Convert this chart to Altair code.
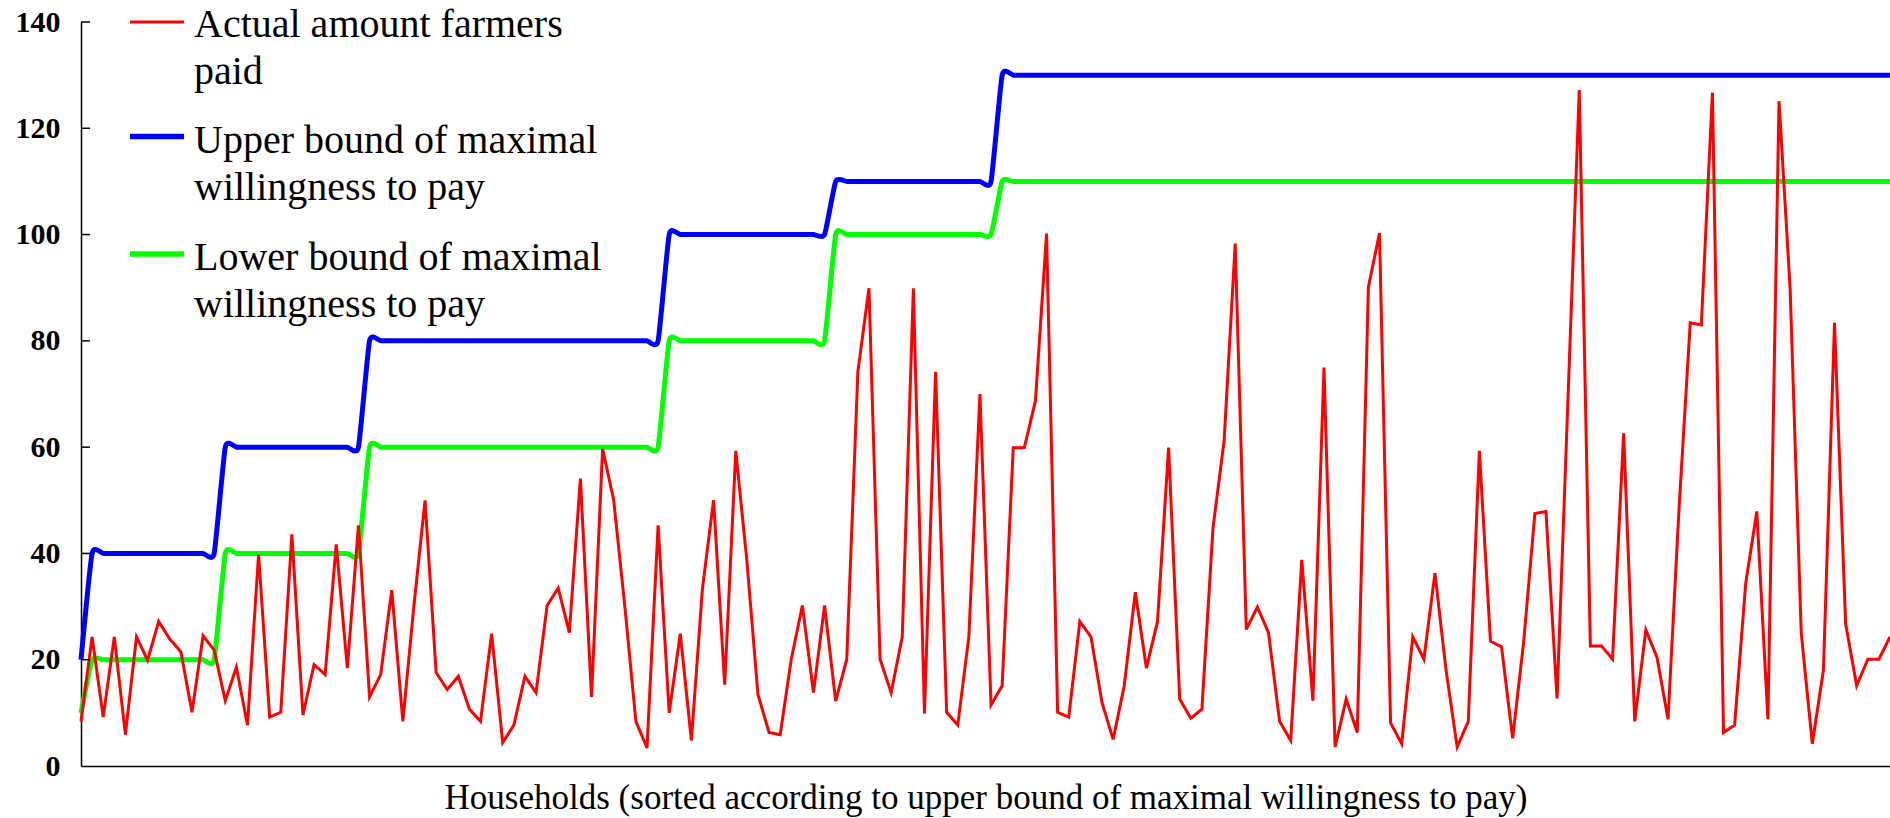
import altair as alt
import pandas as pd

# ---------------- data ----------------
paid = [8.4, 24.3, 9.2, 24.3, 5.9, 24.3, 19.9, 27.2, 23.9, 21.5,
        10.1, 24.5, 21.8, 12.3, 18.6, 7.7, 39.8, 9.2, 10.1, 43.6,
        9.6, 19.1, 17.2, 41.7, 18.4, 45.3, 13.0, 17.2, 33.1, 8.4,
        30.2, 50.0, 17.6, 14.4, 16.9, 10.7, 8.4, 24.9, 4.4, 7.7,
        16.9, 13.8, 30.2, 33.5, 25.1, 54.1, 13.0, 59.7, 50.0, 30.1,
        8.4, 3.4, 45.3, 10.0, 24.9, 4.8, 33.5, 50.0, 15.3, 59.3,
        38.6, 13.4, 6.3, 5.9, 20.1, 30.2, 13.8, 30.2, 12.2, 20.1,
        74.2, 89.9, 20.1, 13.8, 24.3, 89.9, 9.9, 74.2, 10.1, 7.7,
        24.3, 70.0, 11.5, 15.1, 59.9, 59.9, 68.7, 100.2, 10.1, 9.2,
        27.2, 24.3, 11.9, 5.0, 15.1, 32.7, 18.4, 27.2, 59.9, 12.6,
        9.0, 10.7, 44.8, 61.2, 98.3, 25.7, 29.9, 25.1, 8.4, 4.8,
        38.8, 12.3, 75.0, 3.6, 12.6, 6.3, 90.1, 100.3, 8.1, 4.2,
        24.3, 20.1, 36.3, 18.0, 3.6, 8.4, 59.3, 23.5, 22.4, 5.2,
        23.5, 47.5, 47.9, 12.7, 70.0, 127.2, 22.6, 22.6, 20.1, 62.6,
        8.4, 25.6, 20.5, 8.8, 48.8, 83.4, 83.0, 126.7, 6.3, 7.7,
        34.4, 47.9, 8.8, 125.1, 89.9, 25.1, 4.2, 18.0, 83.4, 26.8,
        15.1, 20.1, 20.1, 24.3]

# step levels of the two bounds and how many households sit on each level
upper_levels = [20, 40, 60, 80, 100, 110, 130]
lower_levels = [10, 20, 40, 60, 80, 100, 110]
level_counts = [1, 12, 13, 27, 15, 15, 81]

y_tick_values = [0, 20, 40, 60, 80, 100, 120, 140]
inner_ticks = [20, 40, 60, 80, 100, 120, 140]

series_names = ["Actual amount farmers paid",
                "Upper bound of maximal willingness to pay",
                "Lower bound of maximal willingness to pay"]
legend_labels = ["Actual amount farmers\npaid",
                 "Upper bound of maximal\nwillingness to pay",
                 "Lower bound of maximal\nwillingness to pay"]
series_colors = ["#FF0000", "#0000FF", "#00FF00"]

x_title = "Households (sorted according to upper bound of maximal willingness to pay)"

# ---------------- build tables ----------------
upper = []
lower = []
for u, l, c in zip(upper_levels, lower_levels, level_counts):
    upper += [u] * c
    lower += [l] * c

households = list(range(1, len(paid) + 1))
rows = []
for name, vals in zip(series_names, [paid, upper, lower]):
    for h, v in zip(households, vals):
        rows.append({"household": h, "value": v, "series": name})
df = pd.DataFrame(rows)

FONT = "Liberation Serif"
W, H = 1809, 744

x_scale = alt.Scale(domain=[1, len(paid)], nice=False, zero=False)
y_scale = alt.Scale(domain=[0, 140], nice=False)

x_axis = alt.Axis(title=x_title, labels=False, ticks=False, grid=False,
                  domainColor="black", domainWidth=1.5,
                  titleFont=FONT, titleFontSize=35, titleFontWeight="normal",
                  titleColor="black", titlePadding=14)
y_axis = alt.Axis(title=None, values=y_tick_values, ticks=False, grid=False,
                  domainColor="black", domainWidth=1.5,
                  labelFont=FONT, labelFontSize=30, labelFontWeight="bold",
                  labelColor="black", labelPadding=21)

X = alt.X("household:Q", scale=x_scale, axis=x_axis)
Y = alt.Y("value:Q", scale=y_scale, axis=y_axis)

base = alt.Chart(df)

blue = base.transform_filter(alt.datum.series == series_names[1]).mark_line(
    color=series_colors[1], strokeWidth=5, interpolate="cardinal", tension=0.5
).encode(x=X, y=Y)

green = base.transform_filter(alt.datum.series == series_names[2]).mark_line(
    color=series_colors[2], strokeWidth=5, interpolate="cardinal", tension=0.5
).encode(x=X, y=Y)

red = base.transform_filter(alt.datum.series == series_names[0]).mark_line(
    color=series_colors[0], strokeWidth=3, strokeJoin="miter"
).encode(x=X, y=Y)

ticks = alt.Chart(pd.DataFrame({"value": inner_ticks})).mark_rule(
    color="black", strokeWidth=1.5
).encode(x=alt.value(0), x2=alt.value(9), y=Y)

layers = [blue, green, red, ticks]

# legend drawn inside the plot (top-left)
sym_y = [0, 114.5, 232]
txt_y = [14.5, 131, 248]
sym_w = [3, 5.5, 5.5]
for i in range(3):
    ldf = pd.DataFrame({"label": [legend_labels[i]]})
    layers.append(
        alt.Chart(ldf).mark_rule(color=series_colors[i], strokeWidth=sym_w[i]).encode(
            x=alt.value(49), x2=alt.value(103), y=alt.value(sym_y[i]))
    )
    layers.append(
        alt.Chart(ldf).mark_text(align="left", baseline="alphabetic", font=FONT,
                                 fontSize=40, lineBreak="\n", lineHeight=47,
                                 color="black").encode(
            x=alt.value(113), y=alt.value(txt_y[i]), text="label:N")
    )

chart = alt.layer(*layers).properties(
    width=W, height=H,
    autosize=alt.AutoSizeParams(type="none"),
    padding={"left": 81, "top": 22, "right": 0, "bottom": 52},
    background="white",
).configure_view(strokeWidth=0)

chart.save("out.html", embed_options={"renderer": "svg", "actions": False})
